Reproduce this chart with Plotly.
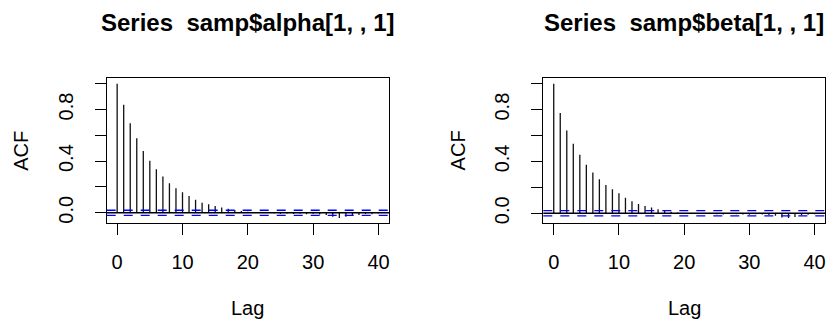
import plotly.graph_objects as go

lags = list(range(0, 41))
acf_alpha = [1.0, 0.837, 0.694, 0.578, 0.479, 0.402, 0.337, 0.280, 0.228, 0.189,
             0.158, 0.130, 0.101, 0.078, 0.065, 0.052, 0.041, 0.031, 0.022, 0.014,
             0.008, 0.004, 0.002, -0.002, -0.004, -0.008, -0.006, -0.010, -0.006, -0.012,
             -0.008, -0.014, -0.018, -0.030, -0.040, -0.030, -0.022, -0.018, -0.010, -0.012,
             -0.006]
acf_beta = [1.0, 0.773, 0.639, 0.536, 0.451, 0.374, 0.314, 0.263, 0.219, 0.186,
            0.155, 0.119, 0.093, 0.072, 0.057, 0.044, 0.031, 0.021, 0.012, 0.006,
            0.002, -0.002, -0.004, -0.006, -0.004, -0.008, -0.010, -0.006, -0.008, -0.010,
            -0.012, -0.008, -0.010, -0.014, -0.020, -0.032, -0.036, -0.028, -0.016, -0.012,
            -0.008]
ci = 0.0196
titles = ["Series  samp$alpha[1, , 1]", "Series  samp$beta[1, , 1]"]
x_ticks = [0, 10, 20, 30, 40]
y_ticks = [0.0, 0.2, 0.4, 0.6, 0.8, 1.0]
y_ticktext = ["0.0", "", "0.4", "", "0.8", ""]

FONT = "Liberation Sans, Arial, Helvetica, sans-serif"
W, H = 830, 325
x_domains = [[106.7 / W, 389.0 / W], [543.3 / W, 825.0 / W]]
y_domain = [1 - 223.3 / H, 1 - 78.3 / H]

fig = go.Figure()
series = [acf_alpha, acf_beta]
for i, vals in enumerate(series):
    xs, ys = [], []
    for lag, v in zip(lags, vals):
        xs += [lag, lag, None]
        ys += [0, v, None]
    ax = "" if i == 0 else "2"
    fig.add_trace(go.Scatter(x=xs, y=ys, mode="lines",
                             line=dict(color="#111111", width=1.3),
                             xaxis="x" + ax, yaxis="y" + ax, showlegend=False,
                             hoverinfo="skip"))
    xref = "x" + ax
    yref = "y" + ax
    fig.add_shape(type="line", xref=xref + " domain", yref=yref, x0=0, x1=1, y0=0, y1=0,
                  line=dict(color="black", width=1.3))
    for c in (ci, -ci):
        fig.add_shape(type="line", xref=xref + " domain", yref=yref, x0=0, x1=1, y0=c, y1=c,
                      line=dict(color="#0000FF", width=1.3, dash="9px,8px"))
    ymin = min(min(vals), -ci)
    r = 1 - ymin
    yr = [ymin - 0.04 * r, 1 + 0.04 * r]
    xr = [-1.6, 41.6]
    axis_common = dict(showline=True, linecolor="black", linewidth=1.3, mirror=True,
                       ticks="outside", ticklen=11, tickwidth=1.3, tickcolor="black",
                       showgrid=False, zeroline=False,
                       tickfont=dict(family=FONT, size=20, color="black"))
    fig.update_layout(**{
        "xaxis" + ax: dict(domain=x_domains[i], range=xr, tickvals=x_ticks,
                           ticktext=[str(t) for t in x_ticks], anchor="y" + ax,
                           ticklabelstandoff=10, **axis_common),
        "yaxis" + ax: dict(domain=y_domain, range=yr, tickvals=y_ticks,
                           ticktext=y_ticktext, tickangle=-90, anchor="x" + ax,
                           ticklabelstandoff=14, **axis_common),
    })
    cx = (x_domains[i][0] + x_domains[i][1]) / 2
    fig.add_annotation(text="<b>" + titles[i] + "</b>", xref="paper", yref="paper",
                       x=cx, y=1 - 22 / H, xanchor="center", yanchor="middle",
                       showarrow=False, font=dict(family=FONT, size=24, color="black"))
    fig.add_annotation(text="Lag", xref="paper", yref="paper",
                       x=cx, y=1 - 308 / H, xanchor="center", yanchor="middle",
                       showarrow=False, font=dict(family=FONT, size=20, color="black"))
    acf_x = (21 if i == 0 else 457.6) / W
    fig.add_annotation(text="ACF", xref="paper", yref="paper",
                       x=acf_x, y=(y_domain[0] + y_domain[1]) / 2, textangle=-90,
                       xanchor="center", yanchor="middle",
                       showarrow=False, font=dict(family=FONT, size=20, color="black"))

fig.update_layout(width=W, height=H, margin=dict(l=0, r=0, t=0, b=0),
                  paper_bgcolor="white", plot_bgcolor="white")
fig.write_html("out.html")
